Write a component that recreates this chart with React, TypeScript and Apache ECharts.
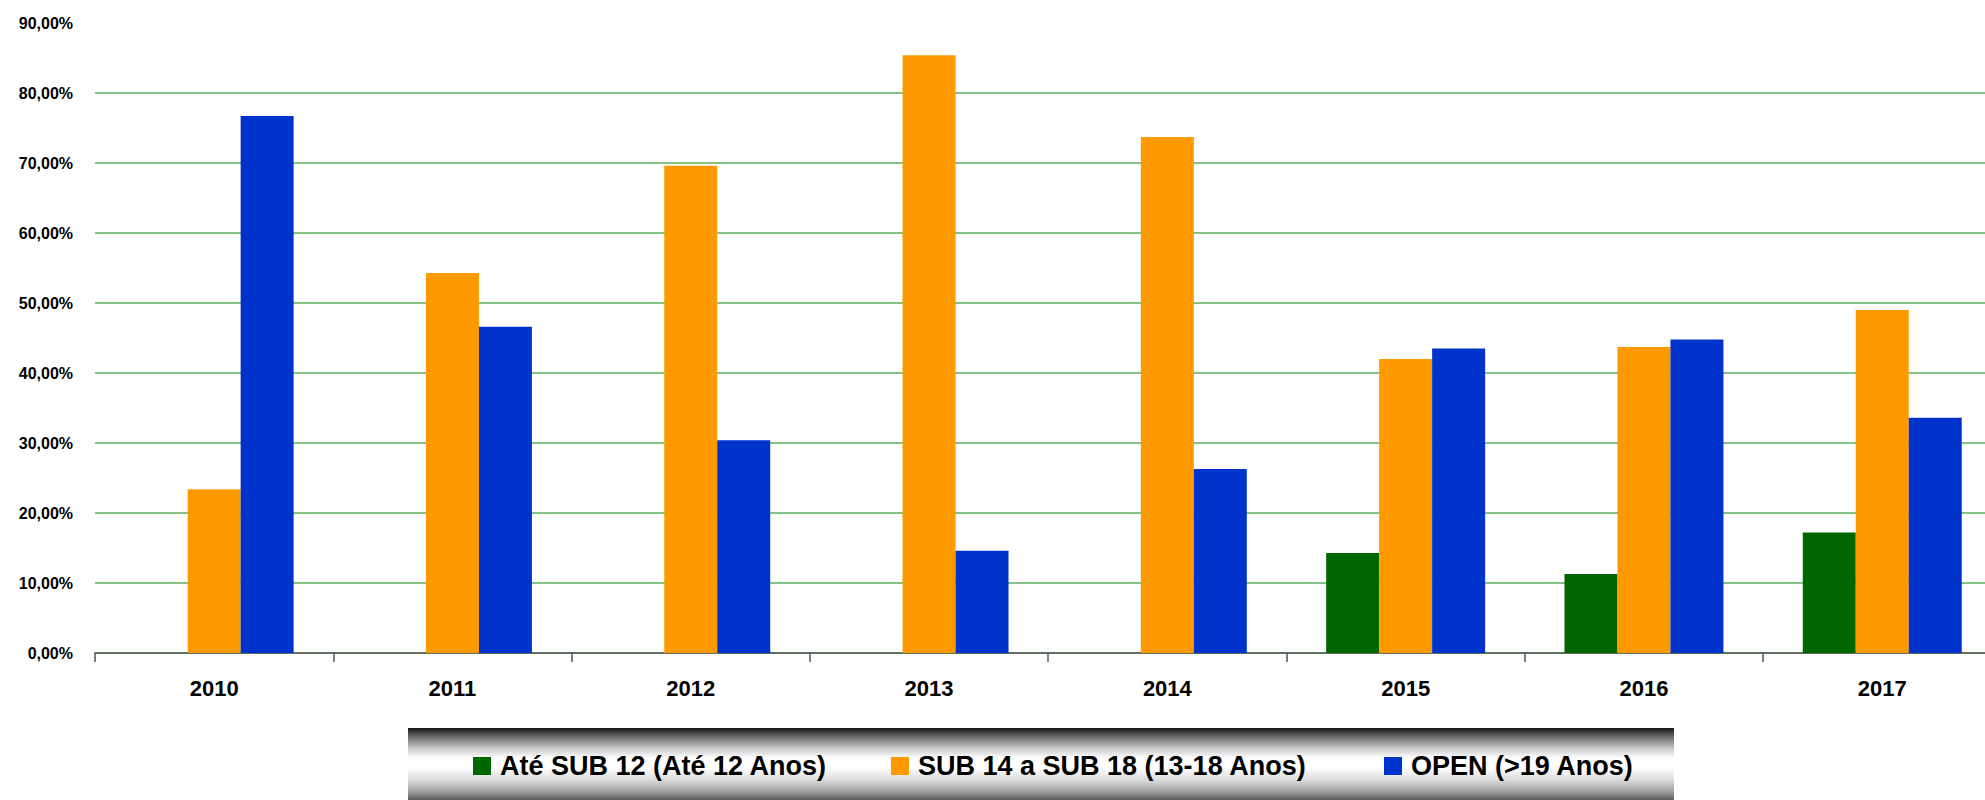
import React, { useEffect, useRef } from "react";
import * as echarts from "echarts";

const categories = ["2010", "2011", "2012", "2013", "2014", "2015", "2016", "2017"];
const seriesNames = ["Até SUB 12 (Até 12 Anos)", "SUB 14 a SUB 18 (13-18 Anos)", "OPEN (>19 Anos)"];
const sub12 = [null, null, null, null, null, 14.3, 11.3, 17.2];
const sub14to18 = [23.4, 54.3, 69.6, 85.4, 73.7, 42.0, 43.7, 49.0];
const open = [76.7, 46.6, 30.4, 14.6, 26.3, 43.5, 44.8, 33.6];
const yTicks = { min: 0, max: 90, interval: 10 };

const colors = ["#006600", "#ff9900", "#0033cc"];
const FONT = "'Liberation Sans', Arial, sans-serif";

export default function App() {
  const ref = useRef<HTMLDivElement>(null);
  useEffect(() => {
    if (!ref.current) return;
    const chart = echarts.init(ref.current, null, { renderer: "svg" });
    const legendLefts = [473, 891, 1384];
    chart.setOption({
      animation: false,
      backgroundColor: "#ffffff",
      grid: {
        left: 95,
        top: 23,
        width: 1906.4,
        height: 630,
        containLabel: false,
        outerBoundsMode: "none",
      },
      xAxis: {
        type: "category",
        data: categories,
        axisLine: { show: true, lineStyle: { color: "#555555", width: 1.5 } },
        axisTick: { show: true, alignWithLabel: false, length: 9, lineStyle: { color: "#555555", width: 1.5 } },
        axisLabel: { color: "#000", fontSize: 22, fontWeight: "bold", fontFamily: FONT, margin: 24 },
        splitLine: { show: false },
      },
      yAxis: {
        type: "value",
        min: yTicks.min,
        max: yTicks.max,
        interval: yTicks.interval,
        axisLine: { show: false },
        axisTick: { show: false },
        axisLabel: {
          color: "#000",
          fontSize: 16,
          fontWeight: "bold",
          fontFamily: FONT,
          margin: 22,
          formatter: (v: number) => v.toFixed(2).replace(".", ",") + "%",
        },
        splitLine: {
          show: true,
          showMinLine: true,
          showMaxLine: false,
          lineStyle: { color: "#5caf5c", width: 1.5 },
        },
      },
      legend: seriesNames.map((name, i) => ({
        data: [name],
        left: legendLefts[i],
        top: 751,
        padding: 0,
        itemWidth: 18,
        itemHeight: 18,
        icon: "rect",
        z: 10,
        textStyle: {
          color: "#000",
          fontSize: 27,
          fontWeight: "bold",
          fontFamily: FONT,
          lineHeight: 30,
          padding: [0, 0, 0, 4],
        },
      })),
      graphic: [
        {
          type: "rect",
          z: 1,
          shape: { x: 408, y: 728, width: 1266, height: 72 },
          style: {
            fill: new echarts.graphic.LinearGradient(0, 0, 0, 1, [
              { offset: 0, color: "#151515" },
              { offset: 0.12, color: "#6a6a6a" },
              { offset: 0.28, color: "#c8c8c8" },
              { offset: 0.42, color: "#ffffff" },
              { offset: 0.55, color: "#ffffff" },
              { offset: 0.72, color: "#dcdcdc" },
              { offset: 0.88, color: "#a0a0a0" },
              { offset: 1, color: "#5a5a5a" },
            ]),
          },
        },
      ],
      series: [sub12, sub14to18, open].map((d, i) => ({
        name: seriesNames[i],
        type: "bar",
        data: d.map((v) => (v === null ? "-" : v)),
        barGap: "0%",
        barCategoryGap: "33.3%",
        itemStyle: { color: colors[i] },
      })),
    });
    return () => chart.dispose();
  }, []);
  return (
    <div style={{ position: "fixed", left: 0, top: 0, width: 1985, height: 800, overflow: "hidden", background: "#fff" }}>
      <div ref={ref} style={{ width: 2010, height: 800 }} />
    </div>
  );
}
